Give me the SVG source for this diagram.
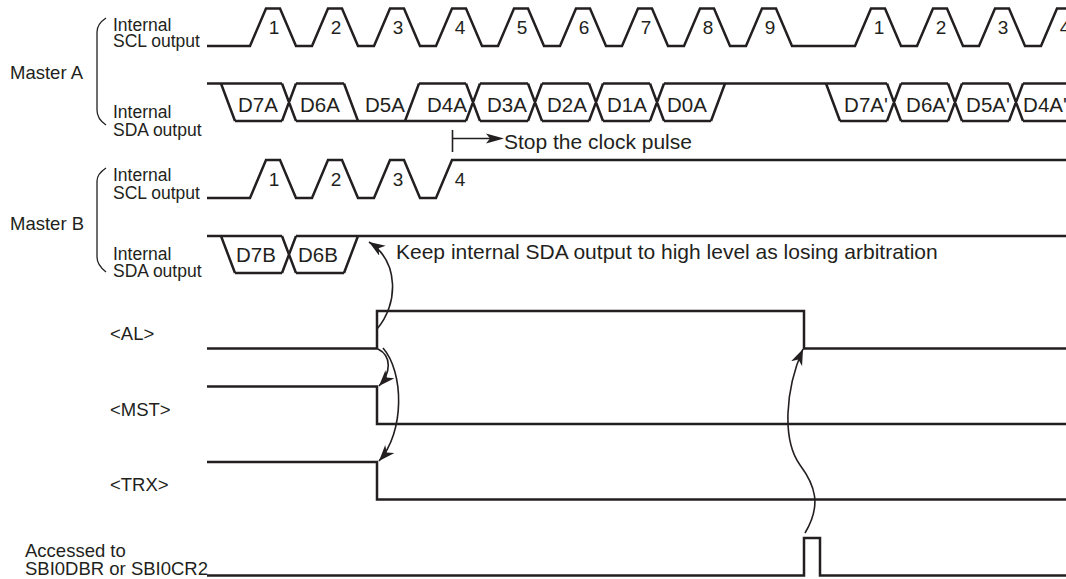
<svg xmlns="http://www.w3.org/2000/svg" width="1066" height="579" viewBox="0 0 1066 579">
<style>
.sig{fill:none;stroke:#231f20;stroke-width:2.5;stroke-linejoin:miter;stroke-linecap:butt}
.arr{fill:none;stroke:#231f20;stroke-width:1.6}
.br{fill:none;stroke:#231f20;stroke-width:1.3}
text{font-family:"Liberation Sans",Arial,sans-serif;fill:#231f20}
.lbl{font-size:18.5px}
.sub{font-size:17.5px}
.num{font-size:19px;text-anchor:middle}
.dat{font-size:20.5px;text-anchor:middle}
.nar{font-size:21px}
</style>
<defs>
<marker id="ah" markerUnits="userSpaceOnUse" markerWidth="17" markerHeight="13" refX="16" refY="6" orient="auto">
<path d="M0,0 L16,6 L0,12 L4.5,6 z" fill="#231f20"/>
</marker>
</defs>
<rect width="1066" height="579" fill="#fff"/>

<g id="masterA-labels">
<text class="lbl" x="10" y="79">Master A</text>
<path class="br" d="M106,18 Q97,24 97,32 V110 Q97,119 106,125"/>
<text class="sub" x="113" y="31">Internal</text>
<text class="sub" x="113" y="47">SCL output</text>
<text class="sub" x="113" y="118">Internal</text>
<text class="sub" x="113" y="136">SDA output</text>
</g>

<g id="masterA-scl">
<path class="sig" d="M207,46 H250 L266,8.5 H280 L296,46 H312 L328,8.5 H342 L358,46 H374 L390,8.5 H404 L420,46 H436 L452,8.5 H466 L482,46 H498 L514,8.5 H528 L544,46 H560 L576,8.5 H590 L606,46 H622 L638,8.5 H652 L668,46 H684 L700,8.5 H714 L730,46 H746 L762,8.5 H776 L792,46 H855 L871,8.5 H885 L901,46 H917 L933,8.5 H947 L963,46 H979 L995,8.5 H1009 L1025,46 H1041 L1057,8.5 H1068"/>
<text class="num" x="274" y="34">1</text>
<text class="num" x="336" y="34">2</text>
<text class="num" x="398" y="34">3</text>
<text class="num" x="460" y="34">4</text>
<text class="num" x="522" y="34">5</text>
<text class="num" x="584" y="34">6</text>
<text class="num" x="646" y="34">7</text>
<text class="num" x="708" y="34">8</text>
<text class="num" x="770" y="34">9</text>
<text class="num" x="879" y="34">1</text>
<text class="num" x="941" y="34">2</text>
<text class="num" x="1003" y="34">3</text>
<text class="num" x="1065" y="34">4</text>
</g>

<g id="masterA-sda">
<path class="sig" d="M207,83.5 H282 M296,83.5 H344 M419,83.5 H466 M480,83.5 H528 M542,83.5 H589 M603,83.5 H650 M664,83.5 H887 M901,83.5 H948 M962,83.5 H1009 M1023,83.5 H1068"/>
<path class="sig" d="M235,121 H282 M296,121 H466 M480,121 H528 M542,121 H589 M603,121 H650 M664,121 H711 M840,121 H887 M901,121 H948 M962,121 H1009 M1023,121 H1068"/>
<path class="sig" d="M221,83.5 L235,121 M282,83.5 L296,121 M282,121 L296,83.5 M344,83.5 L358,121 M405,121 L419,83.5 M466,83.5 L480,121 M466,121 L480,83.5 M528,83.5 L542,121 M528,121 L542,83.5 M589,83.5 L603,121 M589,121 L603,83.5 M650,83.5 L664,121 M650,121 L664,83.5 M711,121 L725,83.5 M826,83.5 L840,121 M887,83.5 L901,121 M887,121 L901,83.5 M948,83.5 L962,121 M948,121 L962,83.5 M1009,83.5 L1023,121 M1009,121 L1023,83.5"/>
<text class="dat" x="258" y="111.5">D7A</text>
<text class="dat" x="320" y="111.5">D6A</text>
<text class="dat" x="385" y="111.5">D5A</text>
<text class="dat" x="447" y="111.5">D4A</text>
<text class="dat" x="507" y="111.5">D3A</text>
<text class="dat" x="567" y="111.5">D2A</text>
<text class="dat" x="627" y="111.5">D1A</text>
<text class="dat" x="687" y="111.5">D0A</text>
<text class="dat" x="866" y="111.5">D7A'</text>
<text class="dat" x="928" y="111.5">D6A'</text>
<text class="dat" x="988" y="111.5">D5A'</text>
<text class="dat" x="1045" y="111.5">D4A'</text>
</g>

<g id="stop-note">
<path class="sig" style="stroke-width:1.6" d="M452.5,130 V152 M452.5,138.5 H491"/>
<polygon points="504,138.5 486,133.5 490,138.5 486,143.5" fill="#231f20"/>
<text class="nar" x="504" y="148.5">Stop the clock pulse</text>
</g>

<g id="masterB-labels">
<text class="lbl" x="10" y="230">Master B</text>
<path class="br" d="M106,168 Q97,174 97,181 V257 Q97,265 106,272"/>
<text class="sub" x="113" y="181">Internal</text>
<text class="sub" x="113" y="198.5">SCL output</text>
<text class="sub" x="113" y="259.5">Internal</text>
<text class="sub" x="113" y="276.5">SDA output</text>
</g>

<g id="masterB-scl">
<path class="sig" d="M207,198 H250 L266,160 H280 L296,198 H312 L328,160 H342 L358,198 H374 L390,160 H404 L420,198 H436 L452,160 H1068"/>
<text class="num" x="274" y="185.5">1</text>
<text class="num" x="336" y="185.5">2</text>
<text class="num" x="398" y="185.5">3</text>
<text class="num" x="460" y="185.5">4</text>
</g>

<g id="masterB-sda">
<path class="sig" d="M207,236 H282 M296,236 H1068 M235,273 H282 M296,273 H344 M221,236 L235,273 M282,236 L296,273 M282,273 L296,236 M344,273 L358,236"/>
<text class="dat" x="256" y="262">D7B</text>
<text class="dat" x="318" y="262">D6B</text>
</g>

<g id="keep-note">
<text class="nar" x="396" y="259">Keep internal SDA output to high level as losing arbitration</text>
</g>

<g id="AL">
<text class="lbl" x="110" y="340">&lt;AL&gt;</text>
<path class="sig" d="M207,348.5 H377 V311 H804 V348.5 H1068"/>
</g>
<g id="MST">
<text class="lbl" x="110" y="415.5">&lt;MST&gt;</text>
<path class="sig" d="M207,386.5 H377 V424 H1068"/>
</g>
<g id="TRX">
<text class="lbl" x="110" y="491">&lt;TRX&gt;</text>
<path class="sig" d="M207,462 H377 V499.5 H1068"/>
</g>
<g id="ACCESS">
<text class="lbl" x="25" y="556.5">Accessed to</text>
<text class="lbl" x="25" y="575">SBI0DBR or SBI0CR2</text>
<path class="sig" d="M207,575.5 H804 V538 H820 V575.5 H1068"/>
</g>

<g id="connectors">
<path class="arr" marker-end="url(#ah)" d="M377,329 C398,305 400,262 369,242"/>
<path class="arr" marker-end="url(#ah)" d="M378,349 C392,356 391,373 379,386"/>
<path class="arr" marker-end="url(#ah)" d="M383,348 C404,372 405,432 379,461"/>
<path class="arr" marker-end="url(#ah)" d="M805,533 C822,505 815,485 800,465 C782,440 785,390 803,349"/>
</g>
</svg>
